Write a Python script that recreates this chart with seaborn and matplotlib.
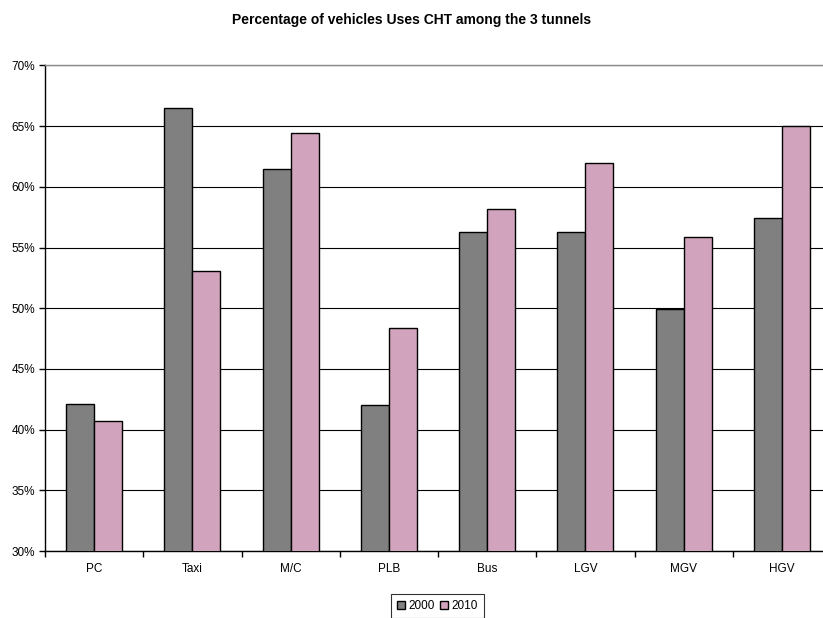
import matplotlib
matplotlib.use("Agg")
import matplotlib.pyplot as plt
import seaborn as sns
import pandas as pd
from matplotlib.ticker import FuncFormatter, FixedLocator

categories = ["PC", "Taxi", "M/C", "PLB", "Bus", "LGV", "MGV", "HGV"]
years = ["2000", "2010"]
values_2000 = [42.1, 66.5, 61.5, 42.0, 56.3, 56.3, 49.9, 57.4]
values_2010 = [40.7, 53.1, 64.4, 48.4, 58.2, 62.0, 55.9, 65.0]
y_ticks = [30, 35, 40, 45, 50, 55, 60, 65, 70]

df = pd.DataFrame({
    "cat": categories * 2,
    "year": [years[0]] * len(categories) + [years[1]] * len(categories),
    "val": values_2000 + values_2010,
})

sns.set_theme(style="white")
plt.rcParams['font.family'] = ['Liberation Sans', 'DejaVu Sans']
plt.rcParams['text.color'] = 'black'
plt.rcParams['xtick.color'] = 'black'
plt.rcParams['ytick.color'] = 'black'
plt.rcParams['xtick.labelcolor'] = 'black'
plt.rcParams['ytick.labelcolor'] = 'black'

W, H = 823, 618
fig = plt.figure(figsize=(W / 100, H / 100), dpi=100)
left, right, top, bottom = 45, 831, 65.4, 551
ax = fig.add_axes([left / W, (H - bottom) / H, (right - left) / W, (bottom - top) / H])

palette = {"2000": "#808080", "2010": "#D1A3BD"}
sns.barplot(data=df, x="cat", y="val", hue="year", palette=palette, width=0.57,
            gap=0, edgecolor="black", linewidth=1.0, ax=ax, zorder=3, saturation=1)

ax.set_ylim(30, 70)
ax.set_xlim(-0.5, len(categories) - 0.5)
ax.yaxis.set_major_locator(FixedLocator(y_ticks))
ax.yaxis.set_major_formatter(FuncFormatter(lambda v, p: f"{v:.0f}%"))
ax.grid(axis="y", color="black", linewidth=0.8, zorder=0)
ax.set_axisbelow(True)

for s in ["left", "bottom"]:
    ax.spines[s].set_color("black")
    ax.spines[s].set_linewidth(1.0)
ax.spines["top"].set_color("#888888")
ax.spines["top"].set_linewidth(1.0)
ax.spines["right"].set_visible(False)

ax.set_xticks(range(len(categories)))
ax.set_xticklabels(categories, fontsize=8.5, color="black")
ax.tick_params(axis="x", which="major", length=0, pad=9)
ax.set_xticks([i + 0.5 for i in range(-1, len(categories))], minor=True)
ax.tick_params(axis="x", which="minor", length=4, width=1, color="black", direction="out", bottom=True)
ax.tick_params(axis="y", length=4, width=1, color="black", direction="out", left=True,
               labelsize=8.5, pad=3, labelcolor="black")
ax.set_xlabel("")
ax.set_ylabel("")

handles, labels = ax.get_legend_handles_labels()
ax.legend_.remove()
leg = fig.legend(handles, labels, loc="upper center", bbox_to_anchor=(437.5 / W, (H - 594) / H),
                 ncol=2, fontsize=8.5, frameon=True, fancybox=False, edgecolor="black",
                 handlelength=0.7, handleheight=0.7, handletextpad=0.3, columnspacing=0.4,
                 borderpad=0.5, borderaxespad=0)
leg.get_frame().set_linewidth(0.8)
for t in leg.get_texts():
    t.set_color("black")

fig.text(0.5, 1 - 20 / H, "Percentage of vehicles Uses CHT among the 3 tunnels",
         ha="center", va="center", fontsize=10, fontweight="bold", color="black")

fig.savefig("out.png", dpi=100, facecolor="white")
